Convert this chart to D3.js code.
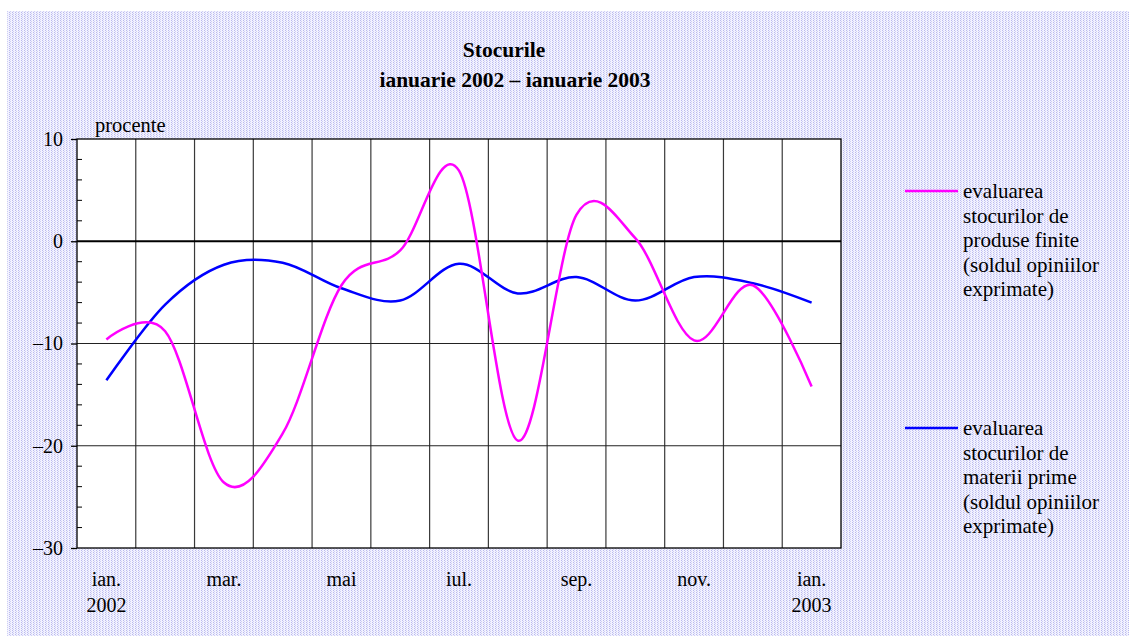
<!DOCTYPE html>
<html lang="ro">
  <head>
    <meta charset="utf-8">
    <title>Stocurile</title>
    <script src="https://d3js.org/d3.v7.min.js"></script>
    <style>
      body { margin: 0; background: #fff; }
      text { font-family: "Liberation Serif", "Times New Roman", serif; fill: #000; }
    </style>
  </head>
  <body>
    <div id="chart"></div>
    <script>
      // monthly values, ian. 2002 .. ian. 2003
      const months = ["ian.", "feb.", "mar.", "apr.", "mai", "iun.", "iul.", "aug.", "sep.", "oct.", "nov.", "dec.", "ian. "]
      const produseFinite = [-9.6, -8.8, -23.6, -18.8, -4.3, -0.9, 6.9, -19.5, 2.6, 0.3, -9.7, -4.3, -14.2]
      const materiiPrime = [-13.6, -6.2, -2.3, -2.1, -4.6, -5.8, -2.2, -5.1, -3.5, -5.8, -3.5, -4.1, -6.0]
      const yTicks = [10, 0, -10, -20, -30]
      const xLabels = {"ian.": ["ian.", "2002"], "mar.": ["mar."], "mai": ["mai"], "iul.": ["iul."],
                       "sep.": ["sep."], "nov.": ["nov."], "ian. ": ["ian.", "2003"]}
      const legendFinite = ["evaluarea", "stocurilor de", "produse finite", "(soldul opiniilor", "exprimate)"]
      const legendPrime = ["evaluarea", "stocurilor de", "materii prime", "(soldul opiniilor", "exprimate)"]

      const W = 1129, H = 636
      const plot = { left: 77, right: 841, top: 139, bottom: 548 }

      const svg = d3.select("#chart").append("svg")
          .attr("width", W)
          .attr("height", H)

      // dotted lavender background
      const pat = svg.append("defs").append("pattern")
          .attr("id", "dots")
          .attr("width", 3).attr("height", 2)
          .attr("patternUnits", "userSpaceOnUse")
      pat.append("rect").attr("width", 3).attr("height", 2).attr("fill", "#f2f2fe")
      pat.append("rect").attr("x", 0).attr("y", 0).attr("width", 1).attr("height", 1).attr("fill", "#b9b9ee")
      pat.append("rect").attr("x", 1).attr("y", 1).attr("width", 1).attr("height", 1).attr("fill", "#cfcff5")

      svg.append("rect")
          .attr("x", 7).attr("y", 11)
          .attr("width", W - 7).attr("height", H - 11)
          .attr("fill", "url(#dots)")

      const x = d3.scaleBand()
          .domain(months)
          .range([plot.left, plot.right])
      const xc = d => x(d) + x.bandwidth() / 2

      const y = d3.scaleLinear()
          .domain([-30, 10])
          .range([plot.bottom, plot.top])

      svg.append("rect")
          .attr("x", plot.left).attr("y", plot.top)
          .attr("width", plot.right - plot.left).attr("height", plot.bottom - plot.top)
          .attr("fill", "#fff")

      // vertical gridlines between months
      svg.append("g").selectAll("line")
          .data(months.slice(1))
          .join("line")
          .attr("x1", d => x(d)).attr("x2", d => x(d))
          .attr("y1", plot.top).attr("y2", plot.bottom)
          .attr("stroke", "#3a3a3a").attr("stroke-width", 1.2)

      // horizontal gridlines
      svg.append("g").selectAll("line")
          .data(yTicks.filter(d => d !== -30 && d !== 10))
          .join("line")
          .attr("x1", plot.left).attr("x2", plot.right)
          .attr("y1", d => y(d)).attr("y2", d => y(d))
          .attr("stroke", d => d === 0 ? "#000" : "#222")
          .attr("stroke-width", d => d === 0 ? 2.2 : 1.2)

      svg.append("rect")
          .attr("x", plot.left).attr("y", plot.top)
          .attr("width", plot.right - plot.left).attr("height", plot.bottom - plot.top)
          .attr("fill", "none").attr("stroke", "#000").attr("stroke-width", 1.3)

      // y axis: major ticks outside, minor ticks inside
      const yAxis = d3.axisLeft(y)
          .tickValues(yTicks)
          .tickSize(6)
          .tickPadding(8)
          .tickFormat(d => d < 0 ? "\u2013" + Math.abs(d) : d)
      const ga = svg.append("g")
          .attr("transform", "translate(" + plot.left + ",0)")
          .call(yAxis)
      ga.select(".domain").remove()
      ga.selectAll(".tick line").attr("stroke", "#000").attr("stroke-width", 1.3)
      ga.selectAll(".tick text")
          .attr("font-family", "Liberation Serif")
          .attr("font-size", 20)
          .attr("fill", "#000")

      svg.append("g").selectAll("line")
          .data(d3.range(-28, 10, 2).filter(d => d % 10 !== 0))
          .join("line")
          .attr("x1", plot.left).attr("x2", plot.left + 5)
          .attr("y1", d => y(d)).attr("y2", d => y(d))
          .attr("stroke", "#000").attr("stroke-width", 1)

      // x labels
      const xl = svg.append("g").selectAll("text")
          .data(Object.keys(xLabels))
          .join("text")
          .attr("x", d => xc(d))
          .attr("y", 586)
          .attr("text-anchor", "middle")
          .attr("font-size", 20)
      xl.selectAll("tspan")
          .data(d => xLabels[d])
          .join("tspan")
          .attr("x", function () { return d3.select(this.parentNode).attr("x") })
          .attr("dy", (d, i) => i === 0 ? 0 : 26)
          .text(d => d)

      svg.append("text")
          .attr("x", 95).attr("y", 132)
          .attr("font-size", 20.5)
          .text("procente")

      // title
      svg.append("text")
          .attr("x", 504).attr("y", 57)
          .attr("text-anchor", "middle")
          .attr("font-size", 21.5).attr("font-weight", "bold")
          .text("Stocurile")
      svg.append("text")
          .attr("x", 515).attr("y", 87)
          .attr("text-anchor", "middle")
          .attr("font-size", 21.5).attr("font-weight", "bold")
          .text("ianuarie 2002 \u2013 ianuarie 2003")

      // series
      const line = d3.line()
          .x((d, i) => xc(months[i]))
          .y(d => y(d))
          .curve(d3.curveCardinal.tension(0))

      svg.append("path")
          .datum(materiiPrime)
          .attr("d", line)
          .attr("fill", "none")
          .attr("stroke", "#0000ff")
          .attr("stroke-width", 2.5)

      svg.append("path")
          .datum(produseFinite)
          .attr("d", line)
          .attr("fill", "none")
          .attr("stroke", "#ff00ff")
          .attr("stroke-width", 2.5)

      // legend
      function legend(lines, color, top) {
          svg.append("line")
              .attr("x1", 905).attr("x2", 958)
              .attr("y1", top).attr("y2", top)
              .attr("stroke", color).attr("stroke-width", 2.5)
          svg.append("text")
              .attr("x", 963).attr("y", top + 7)
              .attr("font-size", 21)
              .selectAll("tspan")
              .data(lines)
              .join("tspan")
              .attr("x", 963)
              .attr("dy", (d, i) => i === 0 ? 0 : 24.5)
              .text(d => d)
      }
      legend(legendFinite, "#ff00ff", 191)
      legend(legendPrime, "#0000ff", 428)
    </script>
  </body>
</html>
